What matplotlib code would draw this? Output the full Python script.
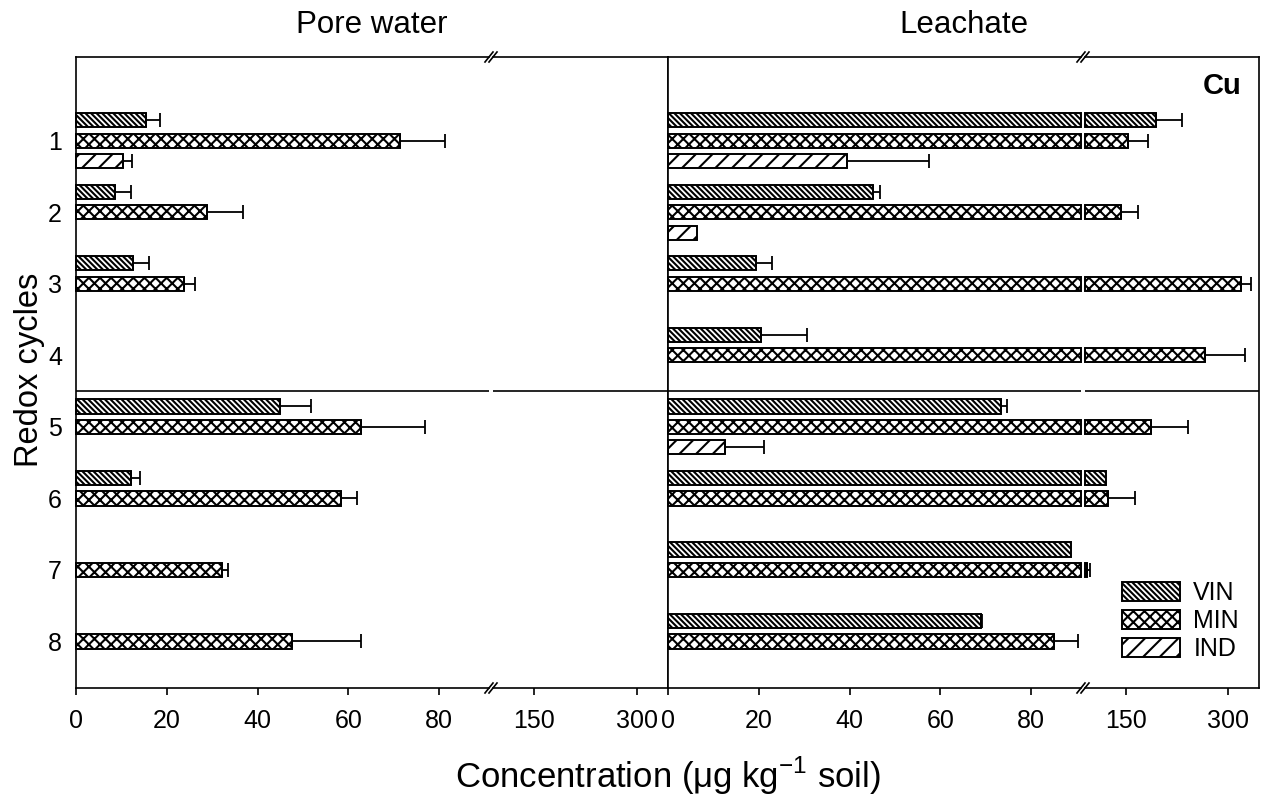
import numpy as np
import matplotlib
matplotlib.use('Agg')
import matplotlib.pyplot as plt
from matplotlib.patches import Patch
from matplotlib.lines import Line2D

plt.rcParams['font.family'] = ['Liberation Sans', 'DejaVu Sans']
plt.rcParams['hatch.linewidth'] = 1.5

nan = np.nan
cycles = [1, 2, 3, 4, 5, 6, 7, 8]
series = ['VIN', 'MIN', 'IND']
hatches = ['\\\\\\\\\\\\', 'xxx', '//']

# pore water
pore_vals = {
    'VIN': [15.4, 8.5, 12.6, nan, 45.0, 12.1, nan, nan],
    'MIN': [71.4, 28.9, 23.9, nan, 62.7, 58.4, 32.2, 47.7],
    'IND': [10.4, nan, nan, nan, nan, nan, nan, nan],
}
pore_errs = {
    'VIN': [3.2, 3.6, 3.4, 0, 6.7, 2.1, 0, 0],
    'MIN': [9.9, 8.0, 2.3, 0, 14.1, 3.6, 1.4, 15.2],
    'IND': [2.0, 0, 0, 0, 0, 0, 0, 0],
}
# leachate
leach_vals = {
    'VIN': [194, 45.2, 19.4, 20.5, 73.4, 120.6, 88.8, 68.9],
    'MIN': [152.5, 143, 318.5, 265.5, 186, 123.5, 93, 85.0],
    'IND': [39.4, 6.3, nan, nan, 12.6, nan, nan, nan],
}
leach_errs = {
    'VIN': [38, 1.6, 3.6, 10.2, 1.3, 0, 0, 0.3],
    'MIN': [30.5, 25, 14.4, 59.5, 54.6, 40, 5, 5.3],
    'IND': [18.2, 0, 0, 0, 8.6, 0, 0, 0],
}

x1_lim = (0, 91)
x2_lim = (90, 345)
x1_ticks = [0, 20, 40, 60, 80]
x2_ticks = [150, 300]
offsets = [-0.286, 0, 0.286]
bar_h = 0.2

W, H = 1266, 799
fig = plt.figure(figsize=(W / 100, H / 100), dpi=100)
top_px, bot_px = 57, 688


def add_ax(x0, x1):
    return fig.add_axes([x0 / W, 1 - bot_px / H, (x1 - x0) / W, (bot_px - top_px) / H])


def draw_panel(px, vals, errs, first):
    ax1 = add_ax(px[0], px[1])
    ax2 = add_ax(px[2], px[3])
    for ax, lim, ticks in ((ax1, x1_lim, x1_ticks), (ax2, x2_lim, x2_ticks)):
        ax.set_xlim(*lim)
        ax.set_ylim(8.65, -0.17)
        ax.set_xticks(ticks)
        ax.tick_params(axis='x', direction='out', length=5, width=1.2, labelsize=18, pad=10)
        ax.tick_params(axis='y', length=0)
        for s in ax.spines.values():
            s.set_linewidth(1.2)
        ax.axhline(4.5, color='black', lw=1.2)
    ax1.spines['right'].set_visible(False)
    ax2.spines['left'].set_visible(False)
    ax2.set_yticks([])
    if first:
        ax1.set_yticks(cycles)
        ax1.set_yticklabels([str(c) for c in cycles])
        ax1.tick_params(axis='y', labelsize=18, pad=10)
    else:
        ax1.set_yticks([])

    for i, name in enumerate(series):
        for c, v, e in zip(cycles, vals[name], errs[name]):
            if np.isnan(v):
                continue
            y = c + offsets[i]
            kw = dict(height=bar_h, facecolor='white', edgecolor='black',
                      hatch=hatches[i], lw=1.4, clip_on=False)
            ax1.barh(y, min(v, x1_lim[1]), left=0, **kw)
            if v > x2_lim[0] + 0.5:
                ax2.barh(y, v - x2_lim[0], left=x2_lim[0], **kw)
            if e > 0:
                ax = ax1 if v <= x1_lim[1] else ax2
                ax.errorbar(v, y, xerr=[[0], [e]], fmt='none', ecolor='black',
                            elinewidth=1.3, capsize=5, capthick=1.3)

    # break marks on top and bottom axis lines
    for yp in (top_px, bot_px):
        for xp in (px[1], px[2]):
            yf = 1 - yp / H
            fig.add_artist(Line2D([(xp - 4) / W, (xp + 4) / W], [yf - 5 / H, yf + 5 / H],
                                  color='black', lw=1.2, transform=fig.transFigure))
    return ax1, ax2


draw_panel((76, 489, 493, 668), pore_vals, pore_errs, True)
draw_panel((668, 1081, 1085, 1259), leach_vals, leach_errs, False)

fig.text(372 / W, 1 - 25 / H, 'Pore water', ha='center', va='center', fontsize=22.5)
fig.text(964 / W, 1 - 25 / H, 'Leachate', ha='center', va='center', fontsize=22.5)
fig.text(1222 / W, 1 - 86 / H, 'Cu', ha='center', va='center', fontsize=21, fontweight='bold')
fig.text(668 / W, 1 - 776 / H, 'Concentration (\u03bcg kg$^{\\mathregular{-1}}$ soil)',
         ha='center', va='center', fontsize=25)
fig.text(30 / W, 1 - 370 / H, 'Redox cycles', ha='center', va='center',
         rotation=90, fontsize=23.5)

handles = [Patch(facecolor='white', edgecolor='black', hatch=h, lw=1.4) for h in hatches]
fig.legend(handles, series, loc='center left', bbox_to_anchor=(1122 / W, 1 - 621 / H),
           frameon=False, fontsize=18, handlelength=2.3, handleheight=0.8,
           handletextpad=0.55, labelspacing=0.15, borderpad=0, borderaxespad=0)

fig.savefig('out.png', dpi=100)
